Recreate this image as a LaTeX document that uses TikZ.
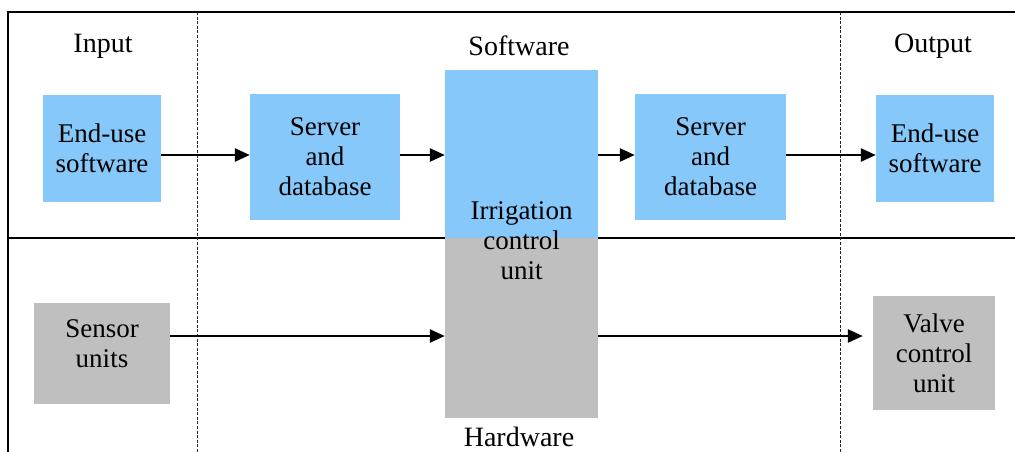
\documentclass[tikz,border=0pt]{standalone}
\usepackage{fontspec}
\setmainfont{Liberation Serif}
\newfontfamily\tnr{Liberation Serif}
\usetikzlibrary{arrows.meta}
\definecolor{bl}{RGB}{135,200,250}
\definecolor{gr}{RGB}{191,191,191}
\begin{document}
\begin{tikzpicture}[x=1pt,y=-1pt,
  frame/.style={line width=2.8pt, line cap=rect},
  sep/.style={line width=1pt, dash pattern=on 3pt off 1.6pt, black!85},
  blk/.style={inner sep=0pt, align=center, font=\tnr\fontsize{27}{30}\selectfont},
  bluebox/.style={blk, fill=bl},
  graybox/.style={blk, fill=gr},
  head/.style={font=\tnr\fontsize{28}{30}\selectfont, inner sep=0pt},
  arr/.style={line width=2.5pt, -{Triangle[length=15pt,width=13pt]}}]
\useasboundingbox (0,0) rectangle (1015,451);
% frame and separators
\draw[frame] (8,470) -- (8,12) -- (1030,12);
\draw[frame] (8,238) -- (1030,238);
\draw[sep] (197,12) -- (197,455);
\draw[sep] (840,12) -- (840,455);
% headings
\node[head] (hin) at (103,46) {Input};
\node[head] (hsw) at (519,46) {Software};
\node[head] (hout) at (933,46) {Output};
\node[head] (hhw) at (519,437) {Hardware};
% irrigation control unit (two-coloured)
\fill[bl] (445,70) rectangle (598,238);
\fill[gr] (445,238) rectangle (598,418);
\node[blk, minimum width=153pt, minimum height=348pt] (irr) at (521.5,244) {};
\node[blk] (irrtxt) at (521.5,240.5) {Irrigation\\control\\unit};
% boxes
\node[bluebox, minimum width=118pt, minimum height=107pt] (in1) at (102,148.5) {End-use\\software};
\node[bluebox, minimum width=150pt, minimum height=126pt] (sd1) at (325,157) {Server\\and\\database};
\node[bluebox, minimum width=151pt, minimum height=126pt] (sd2) at (710.5,157) {Server\\and\\database};
\node[bluebox, minimum width=118pt, minimum height=107pt] (out1) at (935,148.5) {End-use\\software};
\node[graybox, minimum width=136pt, minimum height=101pt] (sen) at (102,353.5) {};
\node[blk] (sentxt) at (102,344) {Sensor\\units};
\node[graybox, minimum width=122pt, minimum height=114pt] (val) at (934,353) {Valve\\control\\unit};
% arrows
\coordinate (ty) at (0,155);
\coordinate (by) at (0,336);
\draw[arr] (ty -| in1.east) -- (ty -| sd1.west);
\draw[arr] (ty -| sd1.east) -- (ty -| irr.west);
\draw[arr] (ty -| irr.east) -- (ty -| sd2.west);
\draw[arr] (ty -| sd2.east) -- (ty -| out1.west);
\draw[arr] (by -| sen.east) -- (by -| irr.west);
\draw[arr] (by -| irr.east) -- ([xshift=-10pt]by -| val.west);
\end{tikzpicture}
\end{document}
